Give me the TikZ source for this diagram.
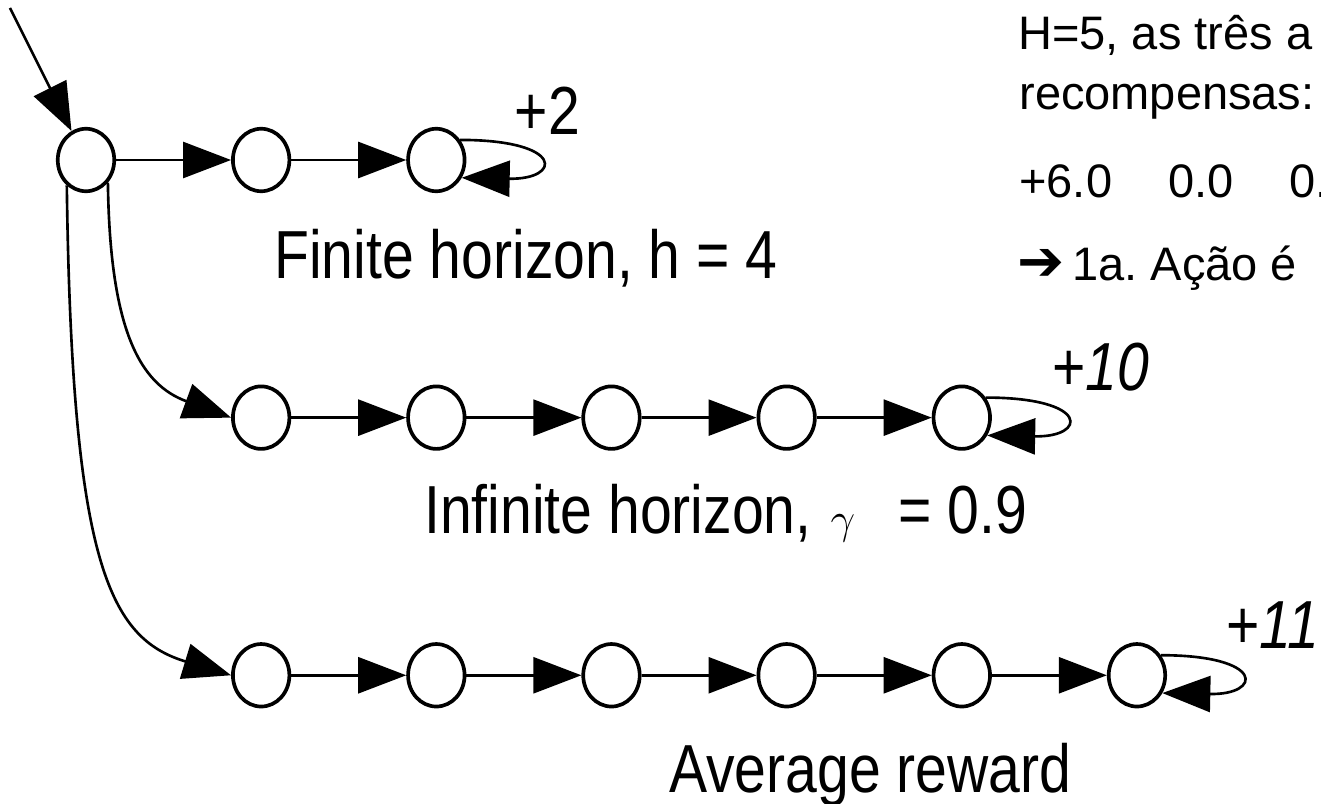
\documentclass[tikz,border=0pt]{standalone}
\usepackage{fontspec}
\usepackage{tikz}
\usetikzlibrary{shapes.geometric, arrows.meta, positioning}
\setmainfont{Liberation Sans}
\newfontfamily\labelfont[FakeStretch=0.84]{Liberation Sans}
\newfontfamily\symbfont{DejaVu Sans}
\frenchspacing

\begin{document}
\begin{tikzpicture}[
  x=0.02cm, y=-0.02cm,
  node distance=3.83cm and 2.3cm,
  mdpstate/.style={
    ellipse, draw=black, line width=2.1pt,
    minimum width=1.13cm, minimum height=1.25cm, inner sep=0pt
  },
  caption/.style={
    anchor=base west, inner sep=0pt,
    font=\labelfont\fontsize{38.7}{46}\selectfont
  },
  note/.style={
    anchor=base west, inner sep=0pt,
    font=\fontsize{26.75}{32}\selectfont
  },
  arrow/.style={-{Triangle[length=0.96cm, width=0.72cm]}, line width=1.5pt}
]

\useasboundingbox (0,0) rectangle (1321,804);

\coordinate (entry) at (10,8);

\node[mdpstate] (r1c1) at (86,160) {};
\node[mdpstate, right=of r1c1] (r1c2) {};
\node[mdpstate, right=of r1c2] (r1c3) {};

\node[mdpstate, below=of r1c2] (r2c1) {};
\node[mdpstate, right=of r2c1] (r2c2) {};
\node[mdpstate, right=of r2c2] (r2c3) {};
\node[mdpstate, right=of r2c3] (r2c4) {};
\node[mdpstate, right=of r2c4] (r2c5) {};

\node[mdpstate, below=of r2c1] (r3c1) {};
\node[mdpstate, right=of r3c1] (r3c2) {};
\node[mdpstate, right=of r3c2] (r3c3) {};
\node[mdpstate, right=of r3c3] (r3c4) {};
\node[mdpstate, right=of r3c4] (r3c5) {};
\node[mdpstate, right=of r3c5] (r3c6) {};

\node[caption] (rew1) at ([shift={(78,-25)}]r1c3.center) {+2};
\node[caption] (rew2) at ([shift={(90,-27)}]r2c5.center) {+\textit{10}};
\node[caption] (rew3) at ([shift={(89,-27)}]r3c6.center) {+\textit{11}};

\node[caption] (finite) at (274,278) {Finite horizon, h = 4};
\node[caption] (infinite) at (424,533) {Infinite horizon,\hspace{0.38cm}{\fontsize{30}{30}\selectfont$\gamma$}\hspace{0.86cm}= 0.9};
\node[caption] (average) at (669,792) {Average reward};

\node[note] (hline) at (1018,50) {H=5, as três a};
\node[note] (recline) at (1019,110) {recompensas:};
\node[note] (valline) at (1019,197) {+6.0\hspace{1.12cm}0.0\hspace{1.12cm}0.};
\node[note] (actline) at (1017,280) {{\symbfont\fontsize{32}{32}\selectfont ➔}\hspace{0.16cm}1a. Ação é};

\draw[arrow] (entry) -- (r1c1);
\draw[arrow] (r1c1) -- (r1c2);
\draw[arrow] (r1c2) -- (r1c3);
\draw[arrow] (r1c3.40) .. controls +(105,0) and +(100,2) .. (r1c3.-35);

\draw[arrow] (r1c1.-46) .. controls +(2,150) and +(-90,-33) .. (r2c1.west);
\draw[arrow] (r2c1) -- (r2c2);
\draw[arrow] (r2c2) -- (r2c3);
\draw[arrow] (r2c3) -- (r2c4);
\draw[arrow] (r2c4) -- (r2c5);
\draw[arrow] (r2c5.40) .. controls +(105,0) and +(100,2) .. (r2c5.-35);

\draw[arrow] (r1c1.-127) .. controls +(5,378) and +(-122,-37) .. (r3c1.west);
\draw[arrow] (r3c1) -- (r3c2);
\draw[arrow] (r3c2) -- (r3c3);
\draw[arrow] (r3c3) -- (r3c4);
\draw[arrow] (r3c4) -- (r3c5);
\draw[arrow] (r3c5) -- (r3c6);
\draw[arrow] (r3c6.40) .. controls +(105,0) and +(100,2) .. (r3c6.-35);

\end{tikzpicture}
\end{document}
